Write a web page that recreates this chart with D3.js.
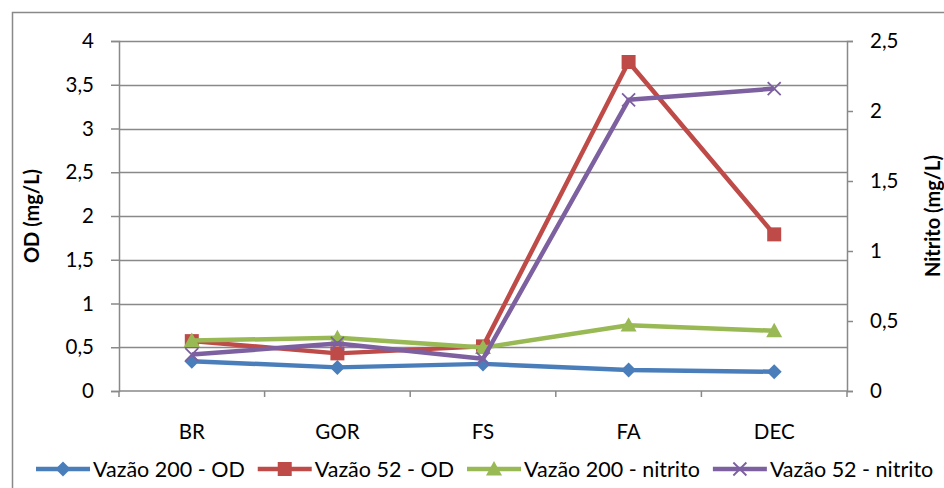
<!DOCTYPE html>
<html>
<head>
<meta charset="utf-8">
<script src="https://cdn.jsdelivr.net/npm/d3@7"></script>
<style>
  body { margin: 0; background: #fff; }
  svg { display: block; font-family: Lato, "Open Sans", sans-serif; }
</style>
</head>
<body>
<div id="chart"></div>
<script>
let categories = ["BR", "GOR", "FS", "FA", "DEC"];
let vazao200OD = [0.34, 0.27, 0.31, 0.24, 0.22];
let vazao52OD = [0.57, 0.43, 0.51, 3.76, 1.79];
let vazao200Nitrito = [0.36, 0.38, 0.31, 0.47, 0.43];
let vazao52Nitrito = [0.26, 0.34, 0.23, 2.08, 2.16];
let leftTicks = [0, 0.5, 1, 1.5, 2, 2.5, 3, 3.5, 4];
let rightTicks = [0, 0.5, 1, 1.5, 2, 2.5];

let series = [
    { name: "Vazão 200 - OD", values: vazao200OD, axis: "left", color: "#4a7ebb", marker: "diamond" },
    { name: "Vazão 52 - OD", values: vazao52OD, axis: "left", color: "#be4b48", marker: "square" },
    { name: "Vazão 200 - nitrito", values: vazao200Nitrito, axis: "right", color: "#98b954", marker: "triangle" },
    { name: "Vazão 52 - nitrito", values: vazao52Nitrito, axis: "right", color: "#7d60a0", marker: "x" }
];

let width = 944, height = 488;
let plotLeft = 119, plotRight = 847, plotTop = 41, plotBottom = 391;
let grey = "#898989";
let fmt = d => String(d).replace(".", ",");

let svg = d3.select("#chart").append("svg")
    .attr("width", width)
    .attr("height", height);

// outer chart border
svg.append("rect")
    .attr("x", 12.5).attr("y", 12.5)
    .attr("width", 960).attr("height", 500)
    .attr("fill", "none")
    .attr("stroke", grey)
    .attr("stroke-width", 1.5);

let x = d3.scaleBand().domain(categories).range([plotLeft, plotRight]);
let yL = d3.scaleLinear().domain([0, 4]).range([plotBottom, plotTop]);
let yR = d3.scaleLinear().domain([0, 2.5]).range([plotBottom, plotTop]);

// gridlines
svg.append("g").selectAll("line")
    .data(leftTicks.slice(1))
    .join("line")
    .attr("x1", plotLeft).attr("x2", plotRight)
    .attr("y1", d => Math.round(yL(d)) + 0.5)
    .attr("y2", d => Math.round(yL(d)) + 0.5)
    .attr("stroke", grey)
    .attr("stroke-width", 1.5);

// left axis
let gl = svg.append("g")
    .attr("transform", "translate(" + plotLeft + ",0)")
    .call(d3.axisLeft(yL).tickValues(leftTicks).tickFormat(fmt).tickSize(8).tickPadding(17));

// right axis
let gr = svg.append("g")
    .attr("transform", "translate(" + plotRight + ",0)")
    .call(d3.axisRight(yR).tickValues(rightTicks).tickFormat(fmt).tickSize(6).tickPadding(17));

// bottom axis with ticks on category boundaries
let gb = svg.append("g")
    .attr("transform", "translate(0," + plotBottom + ")")
    .call(d3.axisBottom(x).tickSize(0).tickPadding(33));
gb.selectAll(".bnd")
    .data(categories.map(c => x(c)).concat([plotRight]))
    .join("line")
    .attr("class", "bnd")
    .attr("x1", d => d).attr("x2", d => d)
    .attr("y1", 0).attr("y2", 6)
    .attr("stroke", grey)
    .attr("stroke-width", 1.5);

[gl, gr, gb].forEach(g => {
    g.select(".domain").attr("stroke", grey).attr("stroke-width", 1.5);
    g.selectAll(".tick line").attr("stroke", grey).attr("stroke-width", 1.5);
    g.selectAll("text").attr("font-size", 20.5).attr("fill", "#000")
        .attr("font-family", "Lato, 'Open Sans', sans-serif");
});
gb.select(".domain").attr("d", "M" + plotLeft + ",0H" + plotRight);

// axis titles
svg.append("text")
    .attr("transform", "translate(39," + (plotTop + plotBottom) / 2 + ") rotate(-90)")
    .attr("text-anchor", "middle")
    .attr("font-size", 20)
    .attr("font-weight", "bold")
    .text("OD (mg/L)");
svg.append("text")
    .attr("transform", "translate(940," + (plotTop + plotBottom) / 2 + ") rotate(-90)")
    .attr("text-anchor", "middle")
    .attr("font-size", 20)
    .attr("font-weight", "bold")
    .text("Nitrito (mg/L)");

function markerPath(type, s) {
    if (type === "diamond") return "M0," + (-s) + "L" + s + ",0L0," + s + "L" + (-s) + ",0Z";
    if (type === "square") return "M" + (-s) + "," + (-s) + "h" + 2 * s + "v" + 2 * s + "h" + (-2 * s) + "Z";
    if (type === "triangle") return "M0," + (-s) + "L" + s + "," + (s * 0.8) + "L" + (-s) + "," + (s * 0.8) + "Z";
    return "M" + (-s) + "," + (-s) + "L" + s + "," + s + "M" + (-s) + "," + s + "L" + s + "," + (-s);
}
function drawMarker(g, type, color, cx, cy) {
    let sizes = { diamond: 7.5, square: 7, triangle: 8, x: 6.5 };
    let p = g.append("path")
        .attr("transform", "translate(" + cx + "," + cy + ")")
        .attr("d", markerPath(type, sizes[type]));
    if (type === "x") {
        p.attr("fill", "none").attr("stroke", color).attr("stroke-width", 1.8);
    } else {
        p.attr("fill", color).attr("stroke", "none");
    }
}

// series lines and markers
series.forEach(s => {
    let y = s.axis === "left" ? yL : yR;
    let line = d3.line()
        .x((d, i) => x(categories[i]) + x.bandwidth() / 2)
        .y(d => y(d));
    let g = svg.append("g");
    g.append("path")
        .attr("d", line(s.values))
        .attr("fill", "none")
        .attr("stroke", s.color)
        .attr("stroke-width", 4.5)
        .attr("stroke-linejoin", "round");
    s.values.forEach((v, i) => {
        drawMarker(g, s.marker, s.color, x(categories[i]) + x.bandwidth() / 2, y(v));
    });
});

// legend
let lx = 36, ly = 469;
series.forEach(s => {
    let g = svg.append("g");
    g.append("line")
        .attr("x1", lx).attr("x2", lx + 54)
        .attr("y1", ly).attr("y2", ly)
        .attr("stroke", s.color)
        .attr("stroke-width", 4.5);
    drawMarker(g, s.marker, s.color, lx + 27, ly);
    let t = g.append("text")
        .attr("x", lx + 57)
        .attr("y", ly + 7.5)
        .attr("font-size", 21.5)
        .text(s.name);
    lx = lx + 57 + t.node().getComputedTextLength() + 13;
});
</script>
</body>
</html>
